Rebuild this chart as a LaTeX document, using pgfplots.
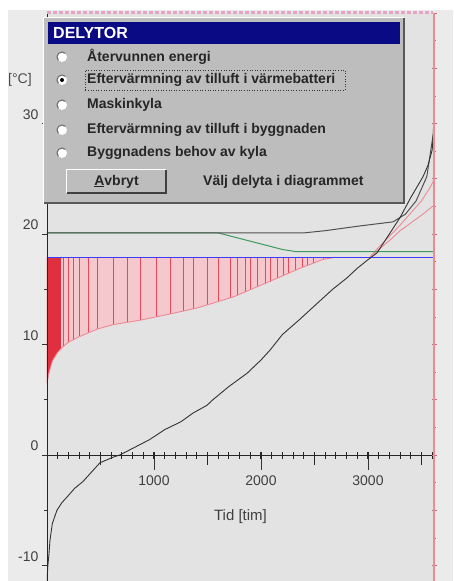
\documentclass[border=0pt]{standalone}
\usepackage{fontspec}
\setmainfont{Liberation Sans}
\usepackage{pgfplots}
\pgfplotsset{compat=1.18}
\definecolor{plotbg}{HTML}{E3E3E3}
\definecolor{outbg}{HTML}{EBEBEB}
\definecolor{dlg}{HTML}{BDBDBD}
\definecolor{navy}{HTML}{0A0A84}
\definecolor{hatch}{HTML}{E8485A}
\definecolor{hatchfill}{HTML}{F5C8CE}
\definecolor{solidred}{HTML}{E0303F}
\definecolor{bluel}{HTML}{3C3CFF}
\definecolor{greenl}{HTML}{3E9A5C}
\definecolor{darkl}{HTML}{505050}
\definecolor{pinkl}{HTML}{EE8A96}
\definecolor{topstrip}{HTML}{E2A6C0}

\pgfplotstableread{
x y
0 -11.4
8 -10
18 -9
28 -7.7
50 -6.2
93 -5.0
140 -4.3
187 -3.8
260 -3.0
336 -2.4
420 -1.5
495 -0.7
617 -0.2
680 0.0
800 0.6
960 1.4
1100 2.3
1250 3.0
1365 3.8
1495 4.5
1550 5.0
1700 6.2
1870 7.4
2000 8.6
2085 9.5
2200 10.9
2365 12.3
2500 13.5
2670 15.0
2800 16.0
2900 16.9
2990 17.6
3085 18.3
3200 20.0
3300 21.5
3400 23.3
3515 25.2
3560 26.2
3600 27.6
3610 29
3617 31
}\outdoor

\begin{document}
\begin{tikzpicture}
\useasboundingbox (-47pt,0pt) rectangle (406pt,581pt);
\fill[white] (-47pt,0pt) rectangle (406pt,581pt);
\fill[outbg] (-39pt,0pt) rectangle (406pt,571pt);

% main axis: data and x axis
\begin{axis}[
  scale only axis, width=387pt, height=568pt,
  xmin=0, xmax=3617, ymin=-11.4, ymax=40,
  axis x line=middle, axis y line=left,
  axis line style={black!85, line width=0.8pt, -},
  axis background/.style={fill=plotbg},
  xtick={0,1000,2000,3000},
  ytick=\empty,
  tick align=outside,
  major tick length=15pt,
  tick style={black!80, line width=0.8pt},
  xticklabel style={yshift=-2pt, font=\fontsize{14}{14}\selectfont, text=black!75},
  /pgf/number format/assume math mode=true,
  /pgf/number format/1000 sep={},
  xlabel={Tid [tim]},
  xlabel style={at={(axis description cs:0.50,0.113)}, anchor=center, font=\fontsize{15}{15}\selectfont, text=black!75},
  clip=true,
]
% light pink area between lower curve and blue line
\addplot[draw=none, fill=hatchfill] coordinates {
 (0,6.5) (20,7.5) (50,8.5) (100,9.3) (150,9.8) (200,10.2) (300,10.7) (470,11.4)
 (620,11.8) (870,12.2) (1120,12.7) (1400,13.3) (1740,14.3) (2055,15.6) (2365,16.9)
 (2580,17.7) (2700,17.9) (0,17.9)} -- cycle;
% solid red part at the left
\addplot[draw=none, fill=solidred] coordinates {
 (0,6.5) (20,7.5) (50,8.5) (100,9.3) (130,9.6) (130,17.9) (0,17.9)} -- cycle;
% hatch lines
\addplot[hatch, line width=0.8pt, unbounded coords=jump] coordinates {
 (150,17.9) (150,9.8) (150,nan)
 (196,17.9) (196,10.2) (196,nan)
 (243,17.9) (243,10.45) (243,nan)
 (299,17.9) (299,10.7) (299,nan)
 (383,17.9) (383,11.0) (383,nan)
 (467,17.9) (467,11.4) (467,nan)
 (617,17.9) (617,11.8) (617,nan)
 (748,17.9) (748,12.0) (748,nan)
 (869,17.9) (869,12.2) (869,nan)
 (1019,17.9) (1019,12.5) (1019,nan)
 (1150,17.9) (1150,12.75) (1150,nan)
 (1271,17.9) (1271,13.0) (1271,nan)
 (1364,17.9) (1364,13.2) (1364,nan)
 (1495,17.9) (1495,13.6) (1495,nan)
 (1598,17.9) (1598,13.85) (1598,nan)
 (1710,17.9) (1710,14.2) (1710,nan)
 (1776,17.9) (1776,14.45) (1776,nan)
 (1850,17.9) (1850,14.75) (1850,nan)
 (1897,17.9) (1897,14.9) (1897,nan)
 (1963,17.9) (1963,15.2) (1963,nan)
 (2037,17.9) (2037,15.5) (2037,nan)
 (2084,17.9) (2084,15.7) (2084,nan)
 (2150,17.9) (2150,16.0) (2150,nan)
 (2206,17.9) (2206,16.25) (2206,nan)
 (2252,17.9) (2252,16.45) (2252,nan)
 (2318,17.9) (2318,16.7) (2318,nan)
 (2383,17.9) (2383,17.0) (2383,nan)
 (2430,17.9) (2430,17.2) (2430,nan)
 (2486,17.9) (2486,17.4) (2486,nan)
 (2579,17.9) (2579,17.7)
};
% lower pink curve
\addplot[pinkl, line width=0.9pt] coordinates {
 (0,6.5) (20,7.5) (50,8.5) (100,9.3) (150,9.8) (200,10.2) (300,10.7) (470,11.4)
 (620,11.8) (870,12.2) (1120,12.7) (1400,13.3) (1740,14.3) (2055,15.6) (2365,16.9)
 (2580,17.7) (2700,17.9)};
% upper pink curves
\addplot[pinkl, line width=0.9pt] coordinates {
 (3020,17.95) (3100,18.6) (3200,19.4) (3300,20.3) (3400,21.0) (3500,21.7) (3617,22.6)};
\addplot[pinkl, line width=0.9pt] coordinates {
 (3020,17.95) (3100,18.8) (3200,19.8) (3300,20.8) (3400,21.9) (3500,23.0) (3580,24.2) (3617,24.9) (3617,28.2)};
% blue line
\addplot[bluel, line width=1.3pt] coordinates {(0,17.9) (3617,17.9)};
% green line
\addplot[greenl, line width=1pt] coordinates {
 (0,20.1) (1600,20.1) (1800,19.6) (2000,19.1) (2200,18.6) (2330,18.4) (3617,18.4)};
% dark line
\addplot[darkl, line width=1pt] coordinates {
 (0,20.1) (2400,20.1) (2600,20.3) (2900,20.7) (3234,21.1) (3350,21.8) (3450,23.0) (3550,25.2) (3617,29.5)};
% outdoor temperature duration curve
\addplot[black!80, line width=0.9pt] table[x=x, y=y] {\outdoor};
\end{axis}

% small x ticks every 100 h
\begin{axis}[
  scale only axis, width=387pt, height=568pt,
  xmin=0, xmax=3617, ymin=-11.4, ymax=40,
  axis x line=middle, axis y line=none,
  axis line style={black!85, line width=0.8pt, -},
  xtick={100,200,...,3600}, xticklabels={},
  tick align=center,
  major tick length=7pt,
  tick style={black!85, line width=1.1pt},
]
\addplot[draw=none] coordinates {(0,0)};
\end{axis}

% medium x ticks every 500 h
\begin{axis}[
  scale only axis, width=387pt, height=568pt,
  xmin=0, xmax=3617, ymin=-11.4, ymax=40,
  axis x line=middle, axis y line=none,
  axis line style={black!85, line width=0.8pt, -},
  xtick={500,1500,2500,3500}, xticklabels={},
  tick align=outside,
  major tick length=10pt,
  tick style={black!85, line width=0.9pt},
]
\addplot[draw=none] coordinates {(0,0)};
\end{axis}

% left y axis with labels
\begin{axis}[
  scale only axis, width=387pt, height=568pt,
  xmin=0, xmax=3617, ymin=-11.4, ymax=40,
  axis x line=none, axis y line=left,
  axis line style={black!85, line width=0.8pt, -},
  ytick={-10,0,10,20,30},
  minor y tick num=1,
  tick align=outside,
  major tick length=5pt, minor tick length=3pt,
  tick style={black!80, line width=0.7pt},
  yticklabel style={yshift=9pt, font=\fontsize{14}{14}\selectfont, text=black!75},
  /pgf/number format/assume math mode=true,
]
\addplot[draw=none] coordinates {(0,0)};
\end{axis}

% right pink axis
\begin{axis}[
  scale only axis, width=387pt, height=568pt,
  xmin=0, xmax=3617, ymin=-11.4, ymax=40,
  axis x line=none, axis y line=right,
  axis line style={pinkl, line width=1.2pt, -},
  ytick distance=5, minor y tick num=1,
  yticklabels={},
  tick align=center,
  major tick length=5pt, minor tick length=3pt,
  tick style={pinkl!80!black, line width=0.7pt},
]
\addplot[draw=none] coordinates {(0,0)};
\end{axis}

% top strip
\draw[topstrip, line width=3pt, dash pattern=on 4pt off 2pt] (0pt,568pt) -- (386pt,568pt);

% dialog box
\fill[dlg] (-3pt,378pt) rectangle (357pt,563pt);
\draw[white, line width=1pt] (-3pt,378pt) -- (-3pt,563pt) -- (357pt,563pt);
\draw[black!65, line width=1.5pt] (357pt,563pt) -- (357pt,378pt) -- (-3pt,378pt);
\fill[navy] (1pt,537pt) rectangle (353pt,559pt);
\node[anchor=west, text=white, font=\fontsize{16}{16}\selectfont\bfseries, inner sep=0pt] at (6pt,548pt) {DELYTOR};

\foreach \yy/\txt in {524/{Återvunnen energi}, 501/{Eftervärmning av tilluft i värmebatteri}, 476/{Maskinkyla}, 451/{Eftervärmning av tilluft i byggnaden}, 428/{Byggnadens behov av kyla}} {
  \fill[white] (15pt,\yy pt) circle (5pt);
  \draw[black!60, line width=1pt] (15pt,\yy pt) ++(45:5pt) arc (45:225:5pt);
  \node[anchor=west, font=\fontsize{14}{14}\selectfont\bfseries, text=black!85, inner sep=0pt] at (40pt,\yy pt) {\txt};
}
\fill[black] (15pt,501pt) circle (2pt);
\draw[black!80, dotted, line width=0.6pt] (38pt,491pt) rectangle (298pt,511pt);

% button
\fill[dlg] (20pt,388pt) rectangle (119pt,411pt);
\draw[white, line width=1pt] (20pt,388pt) -- (20pt,411pt) -- (119pt,411pt);
\draw[black!75, line width=1.5pt] (119pt,411pt) -- (119pt,388pt) -- (20pt,388pt);
\node[font=\fontsize{14}{14}\selectfont\bfseries, text=black!85, inner sep=0pt] at (69.5pt,399.5pt) {\underline{A}vbryt};
\node[anchor=west, font=\fontsize{14}{14}\selectfont\bfseries, text=black!85, inner sep=0pt] at (156pt,399.5pt) {Välj delyta i diagrammet};

% unit label
\node[anchor=west, font=\fontsize{14}{14}\selectfont, text=black!70, inner sep=0pt] at (-39pt,501pt) {[°C]};
\end{tikzpicture}
\end{document}
